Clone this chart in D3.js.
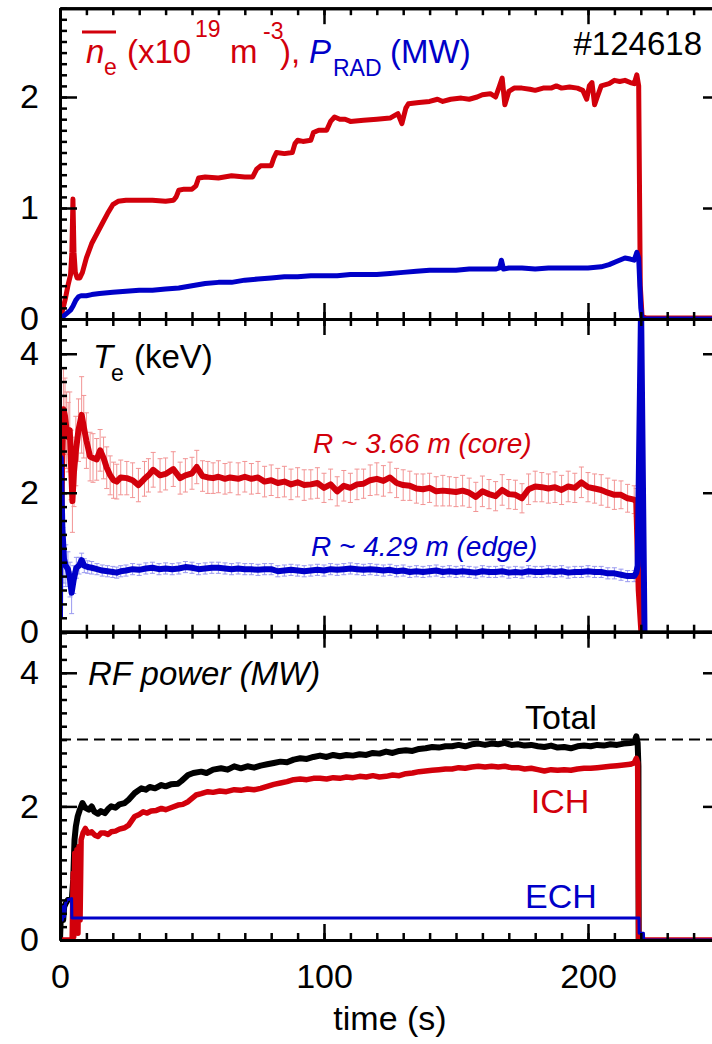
<!DOCTYPE html>
<html>
<head>
<meta charset="utf-8">
<script src="https://cdn.jsdelivr.net/npm/d3@7"></script>
<style>
  html, body { margin: 0; padding: 0; background: #fff; }
  svg { display: block; font-family: "Liberation Sans", Arial, Helvetica, sans-serif; }
</style>
</head>
<body>
<svg id="chart" width="712" height="1044"></svg>
<script>
// ---------------- DATA ----------------
const xTickLabels = [0, 100, 200];
const topTickLabels = [0, 1, 2];
const midTickLabels = [0, 2, 4];
const botTickLabels = [0, 2, 4];

// Top panel: line-averaged density (x10^19 m^-3)
const neTime = [0,1,2,3,4,4.5,4.9,5.3,5.8,6.5,7.5,8.5,10,12,14,16,18,20,22,25,30,35,40,43,44,45,47,50,51.5,52.5,55,60,65,70,73,74.5,76,80,81,82,85,88,89,90,92,95,96,98,101,102.5,104,106,108,110,115,120,125,128,129.5,131,132,136,140,143,145,148,152,155,158,160,163,165,166.5,167.5,168.5,170,172,175,178,180,183,186,188,190,193,196,198,199.5,200.5,201.5,202.5,203.5,205,208,210,212,214,216,217.5,218.5,219.2,219.8,220.5,222,250];
const neVal  = [0,0.08,0.18,0.3,0.4,0.6,1.08,0.6,0.42,0.37,0.37,0.42,0.55,0.68,0.77,0.86,0.95,1.03,1.06,1.07,1.07,1.07,1.06,1.07,1.1,1.16,1.17,1.17,1.2,1.27,1.28,1.27,1.29,1.28,1.28,1.35,1.38,1.38,1.45,1.5,1.49,1.5,1.58,1.61,1.6,1.61,1.68,1.7,1.7,1.78,1.82,1.8,1.8,1.78,1.79,1.8,1.81,1.85,1.76,1.9,1.94,1.95,1.96,1.98,1.96,1.98,1.99,1.98,2.0,2.02,2.03,2.0,2.1,2.17,1.93,2.05,2.08,2.08,2.07,2.06,2.08,2.08,2.1,2.08,2.09,2.08,2.06,1.98,2.1,2.13,1.93,2.0,2.1,2.12,2.15,2.14,2.15,2.13,2.12,2.2,2.1,0.3,0.02,0.01,0.01];

// Top panel: radiated power (MW)
const pradTime = [0,1,2,3,4,5,6,7,8,10,12,15,20,25,30,35,40,45,50,55,60,65,70,75,80,85,90,95,100,105,110,115,120,125,130,135,140,145,150,155,160,165,166.5,167.2,168,170,175,180,185,190,195,200,205,208,211,214,216,217.5,218.5,219.2,220,220.5,250];
const pradVal  = [0,0.02,0.04,0.06,0.08,0.12,0.17,0.2,0.21,0.21,0.22,0.23,0.24,0.25,0.26,0.26,0.27,0.28,0.3,0.32,0.33,0.33,0.35,0.36,0.37,0.38,0.38,0.39,0.39,0.39,0.4,0.4,0.4,0.41,0.42,0.43,0.44,0.44,0.44,0.45,0.45,0.45,0.46,0.53,0.45,0.46,0.46,0.45,0.46,0.46,0.46,0.46,0.47,0.49,0.52,0.55,0.54,0.53,0.6,0.55,0.1,0,0];

// Middle panel: Te core, R ~ 3.66 m (keV) with error
const coreTime = [0.3,0.8,1.3,1.9,2.5,3.1,3.7,4.2,4.7,5.3,6,7,8.2,9,10,11.4,12.5,13.9,15.2,16.5,17.7,19,20.3,21.5,23,25.3,27.5,29.7,32,33.5,35.3,37.9,40,42.9,45.5,47.5,50,51.8,54,56,58,60,62.5,64.4,67.5,70,72.5,75,77.5,80,82.5,85,87.5,90,92.5,95,97.5,100,102.5,105,107.5,110,112.5,115,117.5,120,122.5,125,127.5,130,132.5,135,137.5,140,142.5,145,147.5,150,152.5,155,157.5,160,162.5,165,167.5,170,172.5,175,177.5,180,182.5,185,187.5,190,192.5,195,197.5,200,202.5,205,207.5,210,212.5,215,217.5,218.3,219.2,220.2];
const coreVal  = [1.0,2.4,3.2,3.1,2.9,2.8,2.9,2.4,1.88,2.3,2.6,2.9,3.12,2.95,2.75,2.52,2.5,2.48,2.61,2.5,2.36,2.25,2.18,2.16,2.22,2.21,2.18,2.11,2.2,2.25,2.33,2.25,2.27,2.34,2.21,2.25,2.28,2.37,2.24,2.22,2.21,2.23,2.2,2.22,2.2,2.23,2.2,2.22,2.16,2.18,2.14,2.16,2.12,2.15,2.11,2.12,2.14,2.07,2.12,2.02,2.1,2.07,2.12,2.13,2.18,2.2,2.17,2.22,2.14,2.11,2.1,2.06,2.05,2.07,2.02,2.03,2.02,2.01,2.03,2.0,1.94,2.02,1.98,1.95,2.04,1.98,1.97,1.92,2.05,2.09,2.08,2.06,2.08,2.04,2.09,2.07,2.15,2.08,2.06,2.04,2.0,1.97,1.97,1.92,1.9,1.86,0.6,0.0];
const coreErr  = [0.3,0.8,0.6,0.55,0.55,0.5,0.55,0.5,0.45,0.5,0.5,0.45,0.55,0.45,0.4,0.35,0.35,0.3,0.3,0.3,0.3,0.28,0.26,0.25,0.25,0.24,0.25,0.24,0.25,0.24,0.25,0.24,0.23,0.25,0.23,0.24,0.23,0.24,0.22,0.23,0.22,0.23,0.22,0.22,0.23,0.22,0.22,0.23,0.22,0.22,0.21,0.22,0.22,0.21,0.22,0.21,0.22,0.21,0.22,0.21,0.22,0.21,0.22,0.21,0.22,0.23,0.22,0.22,0.21,0.22,0.21,0.21,0.22,0.21,0.21,0.22,0.21,0.21,0.22,0.21,0.21,0.22,0.21,0.21,0.22,0.21,0.21,0.21,0.22,0.22,0.21,0.21,0.22,0.21,0.22,0.21,0.22,0.21,0.21,0.22,0.21,0.21,0.2,0.2,0.2,0.2,0,0];

// Middle panel: Te edge, R ~ 4.29 m (keV) with error
const edgeTime = [0,0.3,0.9,1.5,2.2,3,3.8,4.4,5.2,6.2,7.2,8.2,9.2,10.5,12,14,16,18,20,21.5,23,25,27.5,30,32.5,35,37.5,40,42.5,45,47.5,50,52.5,55,57.5,60,62.5,65,67.5,70,72.5,75,77.5,80,82.5,85,87.5,90,92.5,95,97.5,100,102.5,105,107.5,110,112.5,115,117.5,120,122.5,125,127.5,130,132.5,135,137.5,140,142.5,145,147.5,150,152.5,155,157.5,160,162.5,165,167.5,170,172.5,175,177.5,180,182.5,185,187.5,190,192.5,195,197.5,200,202.5,205,207.5,210,212.5,215,217.5,218.3,218.8,220.1,221.4];
const edgeVal  = [0.2,2.5,1.5,1.05,0.95,0.9,0.75,0.56,0.75,0.92,0.95,1.03,0.95,0.93,0.92,0.9,0.88,0.87,0.86,0.85,0.87,0.88,0.9,0.89,0.91,0.92,0.9,0.91,0.9,0.91,0.93,0.92,0.9,0.91,0.92,0.92,0.91,0.9,0.91,0.9,0.9,0.89,0.9,0.9,0.87,0.88,0.89,0.88,0.87,0.88,0.89,0.88,0.9,0.89,0.9,0.91,0.9,0.89,0.9,0.89,0.88,0.89,0.87,0.88,0.86,0.87,0.86,0.87,0.88,0.86,0.87,0.86,0.87,0.86,0.85,0.87,0.86,0.86,0.87,0.85,0.86,0.85,0.87,0.86,0.86,0.87,0.86,0.87,0.85,0.86,0.86,0.87,0.86,0.86,0.84,0.84,0.82,0.8,0.8,0.85,0.95,4.7,0.0];
const edgeErr  = [0,0.4,0.5,0.35,0.3,0.25,0.25,0.3,0.2,0.15,0.12,0.1,0.1,0.09,0.09,0.08,0.08,0.08,0.08,0.08,0.08,0.08,0.08,0.08,0.08,0.08,0.08,0.08,0.08,0.08,0.08,0.08,0.08,0.08,0.08,0.08,0.08,0.08,0.08,0.08,0.08,0.08,0.08,0.08,0.08,0.08,0.08,0.08,0.08,0.08,0.08,0.08,0.08,0.08,0.08,0.08,0.08,0.08,0.08,0.08,0.08,0.08,0.08,0.08,0.08,0.08,0.08,0.08,0.08,0.08,0.08,0.08,0.08,0.08,0.08,0.08,0.08,0.08,0.08,0.08,0.08,0.08,0.08,0.08,0.08,0.08,0.08,0.08,0.08,0.08,0.08,0.08,0.08,0.08,0.08,0.08,0.08,0.08,0.08,0,0,0,0];

// Bottom panel: RF power (MW)
const totalTime = [0,0.3,0.7,1.2,1.6,2.2,3,4.5,5,5.5,6,6.7,7.5,8.5,9.5,10.9,12,13,14.4,15.5,17,18.2,19.4,21,22.5,24.5,26,28.3,30.8,32.5,34,36,38.4,40,42,44.7,46,48.5,50.5,53.5,55.5,58,61,63.5,66,68.5,71,73.5,76,78.5,81,83.5,86,88.5,91,93.5,96,98.5,101,103.5,106,108.5,111,113.5,116,118.5,121,123.5,126,128.5,131,133.5,136,138.5,141,143.5,146,148.5,151,153.5,156,158.5,161,163.5,166,168.5,171,173.5,176,178.5,181,183.5,186,188.5,191,193.5,196,198.5,201,203.5,206,208.5,211,213.5,216,217.5,218.3,218.8,219.1,219.2];
const totalVal  = [0,0.35,0.45,0.3,0.5,0.55,0.6,0.62,0.9,1.5,1.7,1.85,1.95,2.05,1.98,1.95,2.0,1.92,1.89,1.93,1.9,1.96,2.0,1.98,2.03,2.05,2.1,2.2,2.27,2.25,2.29,2.27,2.32,2.3,2.33,2.34,2.38,2.47,2.5,2.52,2.5,2.55,2.57,2.55,2.6,2.57,2.6,2.58,2.61,2.63,2.65,2.67,2.66,2.7,2.72,2.71,2.74,2.76,2.74,2.77,2.75,2.77,2.76,2.78,2.77,2.8,2.79,2.82,2.8,2.83,2.84,2.83,2.86,2.87,2.89,2.88,2.9,2.9,2.92,2.9,2.93,2.94,2.92,2.94,2.93,2.95,2.92,2.93,2.91,2.92,2.9,2.89,2.91,2.88,2.89,2.87,2.9,2.91,2.9,2.92,2.91,2.93,2.92,2.94,2.95,2.96,3.05,2.95,2.6,0];
const ichTime = [0,4.6,5,5.2,5.6,6,6.4,6.8,7.2,7.6,8,8.7,9.6,10.5,12,13.2,14.4,15.5,17,18.2,19.4,21,22.5,24.5,26,28.3,30,31.5,33,34.5,36.5,38.4,40,42,44.7,46.5,48.5,50,51.5,53.5,56,58,60.5,63,66,68.5,71,73.5,76,78.5,81,83.5,86,88.5,91,93.5,96,98.5,101,103.5,106,108.5,111,113.5,116,118.5,121,123.5,126,128.5,131,133.5,136,138.5,141,143.5,146,148.5,151,153.5,156,158.5,161,163.5,166,168.5,171,173.5,176,178.5,181,183.5,186,188.5,191,193.5,196,198.5,201,203.5,206,208.5,211,213.5,216,217.5,218.3,218.8,219.2,221,250];
const ichVal  = [0,0,1.0,0.05,1.3,0.4,1.35,0.1,1.4,0.3,1.5,1.6,1.67,1.6,1.62,1.57,1.55,1.6,1.6,1.58,1.62,1.63,1.66,1.68,1.72,1.85,1.88,1.92,1.9,1.93,1.94,1.97,1.95,1.98,2.02,2.03,2.07,2.12,2.17,2.19,2.22,2.21,2.23,2.22,2.25,2.24,2.26,2.25,2.27,2.3,2.33,2.35,2.37,2.4,2.41,2.4,2.42,2.42,2.41,2.43,2.42,2.44,2.43,2.45,2.44,2.46,2.44,2.45,2.47,2.46,2.49,2.5,2.52,2.53,2.54,2.55,2.56,2.56,2.58,2.57,2.59,2.6,2.59,2.6,2.59,2.6,2.58,2.58,2.56,2.57,2.55,2.53,2.55,2.54,2.55,2.54,2.56,2.57,2.57,2.58,2.59,2.6,2.61,2.62,2.63,2.65,2.72,2.66,0,0,0];
const echTime = [0,0.2,0.5,0.9,1.3,1.7,2.1,2.8,4.4,4.5,219.3,219.4,221,221.1,250];
const echVal  = [0,0.3,0.45,0.3,0.5,0.35,0.55,0.6,0.62,0.33,0.33,0.1,0.1,0,0];
const designPower = [3.0];

// ---------------- DRAWING ----------------
const RED = "#d2000b", BLUE = "#0000c8", BLACK = "#000";
const svg = d3.select("#chart");
const x = d3.scaleLinear().domain([0, 250]).range([60, 720]);

const panels = [
  { y: d3.scaleLinear().domain([0, 2.8]).range([319, 8.2]),   ticks: topTickLabels, minor: 0.1, showX: false },
  { y: d3.scaleLinear().domain([0, 4.5]).range([631.7, 319]), ticks: midTickLabels, minor: 0.2, showX: false },
  { y: d3.scaleLinear().domain([0, 4.615]).range([940, 631.7]), ticks: botTickLabels, minor: 0.2, showX: true }
];

const zip = (t, v) => t.map((d, i) => [d, v[i]]);

panels.forEach((p, i) => {
  const [y0, y1] = p.y.range();
  svg.append("clipPath").attr("id", "clip" + i)
    .append("rect").attr("x", 60).attr("y", y1).attr("width", 660).attr("height", y0 - y1);
  p.g = svg.append("g").attr("clip-path", `url(#clip${i})`);
});

function drawLine(g, data, y, color, w) {
  g.append("path").datum(data)
    .attr("fill", "none").attr("stroke", color).attr("stroke-width", w)
    .attr("stroke-linejoin", "round").attr("stroke-linecap", "butt")
    .attr("d", d3.line().x(d => x(d[0])).y(d => y(d[1])));
}
function drawErr(g, t, v, e, y, color) {
  const pts = t.map((d, i) => ({ t: d, v: v[i], e: e[i] })).filter(d => d.e > 0);
  const eg = g.append("g").attr("stroke", color).attr("stroke-width", 1).attr("fill", "none");
  pts.forEach(d => {
    const cx = x(d.t), ya = y(d.v - d.e), yb = y(d.v + d.e);
    eg.append("line").attr("x1", cx).attr("x2", cx).attr("y1", ya).attr("y2", yb);
    eg.append("line").attr("x1", cx - 2.5).attr("x2", cx + 2.5).attr("y1", ya).attr("y2", ya);
    eg.append("line").attr("x1", cx - 2.5).attr("x2", cx + 2.5).attr("y1", yb).attr("y2", yb);
  });
}

// top panel
drawLine(panels[0].g, zip(neTime, neVal), panels[0].y, RED, 5);
drawLine(panels[0].g, zip(pradTime, pradVal), panels[0].y, BLUE, 5);

// middle panel
drawErr(panels[1].g, coreTime, coreVal, coreErr, panels[1].y, "#f29494");
drawErr(panels[1].g, edgeTime, edgeVal, edgeErr, panels[1].y, "#9a9af0");
drawLine(panels[1].g, zip(coreTime, coreVal), panels[1].y, RED, 6);
drawLine(panels[1].g, zip(edgeTime, edgeVal), panels[1].y, BLUE, 6);

// bottom panel
panels[2].g.selectAll("line.design").data(designPower).enter().append("line")
  .attr("x1", 60).attr("x2", 720).attr("y1", d => panels[2].y(d)).attr("y2", d => panels[2].y(d))
  .attr("stroke", "#000").attr("stroke-width", 2).attr("stroke-dasharray", "11,6");
drawLine(panels[2].g, zip(totalTime, totalVal), panels[2].y, BLACK, 6);
drawLine(panels[2].g, zip(ichTime, ichVal), panels[2].y, RED, 5.5);
drawLine(panels[2].g, zip(echTime, echVal), panels[2].y, BLUE, 3);

// axes
const FONT = "34px";
panels.forEach((p, i) => {
  const [yb, yt] = p.y.range();
  const dmax = p.y.domain()[1];
  const minorY = d3.range(0, dmax + 1e-6, p.minor);
  const minorX = d3.range(0, 251, 10);
  const ag = svg.append("g").attr("class", "axes");

  const style = sel => {
    sel.selectAll(".domain").attr("stroke", "#000").attr("stroke-width", 3);
    sel.selectAll(".tick line").attr("stroke", "#000").attr("stroke-width", 2.5);
    sel.selectAll("text").attr("fill", "#000").style("font-size", FONT).style("font-family", '"Liberation Sans", Arial, sans-serif');
  };

  ag.append("g").attr("transform", `translate(0,${yb})`)
    .call(d3.axisBottom(x).tickValues(minorX).tickSize(-7).tickSizeOuter(0).tickFormat("")).call(style);
  ag.append("g").attr("transform", `translate(0,${yb})`)
    .call(d3.axisBottom(x).tickValues(xTickLabels).tickSize(-16).tickSizeOuter(0).tickPadding(24)
      .tickFormat(p.showX ? d3.format("d") : "")).call(style);
  ag.append("g").attr("transform", `translate(0,${yt})`)
    .call(d3.axisTop(x).tickValues(minorX).tickSize(-7).tickSizeOuter(0).tickFormat("")).call(style);
  ag.append("g").attr("transform", `translate(0,${yt})`)
    .call(d3.axisTop(x).tickValues(xTickLabels).tickSize(-16).tickSizeOuter(0).tickFormat("")).call(style);
  ag.append("g").attr("transform", `translate(60,0)`)
    .call(d3.axisLeft(p.y).tickValues(minorY).tickSize(-7).tickSizeOuter(0).tickFormat("")).call(style);
  ag.append("g").attr("transform", `translate(60,0)`)
    .call(d3.axisLeft(p.y).tickValues(p.ticks).tickSize(-17).tickSizeOuter(0).tickPadding(21).tickFormat(d3.format("d"))).call(style);
  ag.append("g").attr("transform", `translate(720,0)`)
    .call(d3.axisRight(p.y).tickValues(minorY).tickSize(-7).tickSizeOuter(0).tickFormat("")).call(style);
  ag.append("g").attr("transform", `translate(720,0)`)
    .call(d3.axisRight(p.y).tickValues(p.ticks).tickSize(-17).tickSizeOuter(0).tickFormat("")).call(style);
});

// ---------------- TEXT ----------------
const txt = (x0, y0, s, opts = {}) => svg.append("text").attr("x", x0).attr("y", y0)
  .attr("fill", opts.fill || "#000").attr("text-anchor", opts.anchor || "start")
  .style("font-size", (opts.size || 34) + "px").style("font-style", opts.italic ? "italic" : "normal").text(s);

svg.append("line").attr("x1", 82).attr("x2", 116).attr("y1", 32).attr("y2", 32).attr("stroke", RED).attr("stroke-width", 3);
const t1 = svg.append("text").attr("x", 86).attr("y", 63).attr("fill", RED).style("font-size", "33px");
t1.append("tspan").text("n").style("font-style", "italic");
t1.append("tspan").attr("x", 104).attr("dy", 12).style("font-size", "23px").text("e");
t1.append("tspan").attr("x", 127).attr("dy", -12).text("(x10");
t1.append("tspan").attr("x", 195).attr("dy", -26).style("font-size", "23px").text("19");
t1.append("tspan").attr("x", 230).attr("dy", 26).text("m");
t1.append("tspan").attr("x", 263).attr("dy", -24).style("font-size", "23px").text("-3");
t1.append("tspan").attr("x", 280).attr("dy", 24).text("),");
t1.append("tspan").attr("x", 309).attr("fill", BLUE).style("font-style", "italic").text("P");
t1.append("tspan").attr("x", 333).attr("dy", 13).attr("fill", BLUE).style("font-size", "23px").text("RAD");
t1.append("tspan").attr("x", 390).attr("dy", -13).attr("fill", BLUE).text("(MW)");
txt(702, 55, "#124618", { anchor: "end", size: 33 });

const t2 = svg.append("text").attr("x", 93).attr("y", 368).attr("fill", "#000").style("font-size", "33px");
t2.append("tspan").style("font-style", "italic").text("T");
t2.append("tspan").attr("x", 111).attr("dy", 13).style("font-size", "23px").text("e");
t2.append("tspan").attr("x", 134).attr("dy", -13).text("(keV)");
txt(313, 453, "R ~ 3.66 m (core)", { fill: RED, size: 28, italic: true });
txt(311, 555.5, "R ~ 4.29 m (edge)", { fill: BLUE, size: 28, italic: true });

txt(88, 685, "RF power (MW)", { size: 33, italic: true });
txt(561, 729, "Total", { anchor: "middle" });
txt(560, 812.5, "ICH", { anchor: "middle", fill: RED });
txt(561, 908, "ECH", { anchor: "middle", fill: BLUE });
txt(390, 1030, "time (s)", { anchor: "middle" });
</script>
</body>
</html>
